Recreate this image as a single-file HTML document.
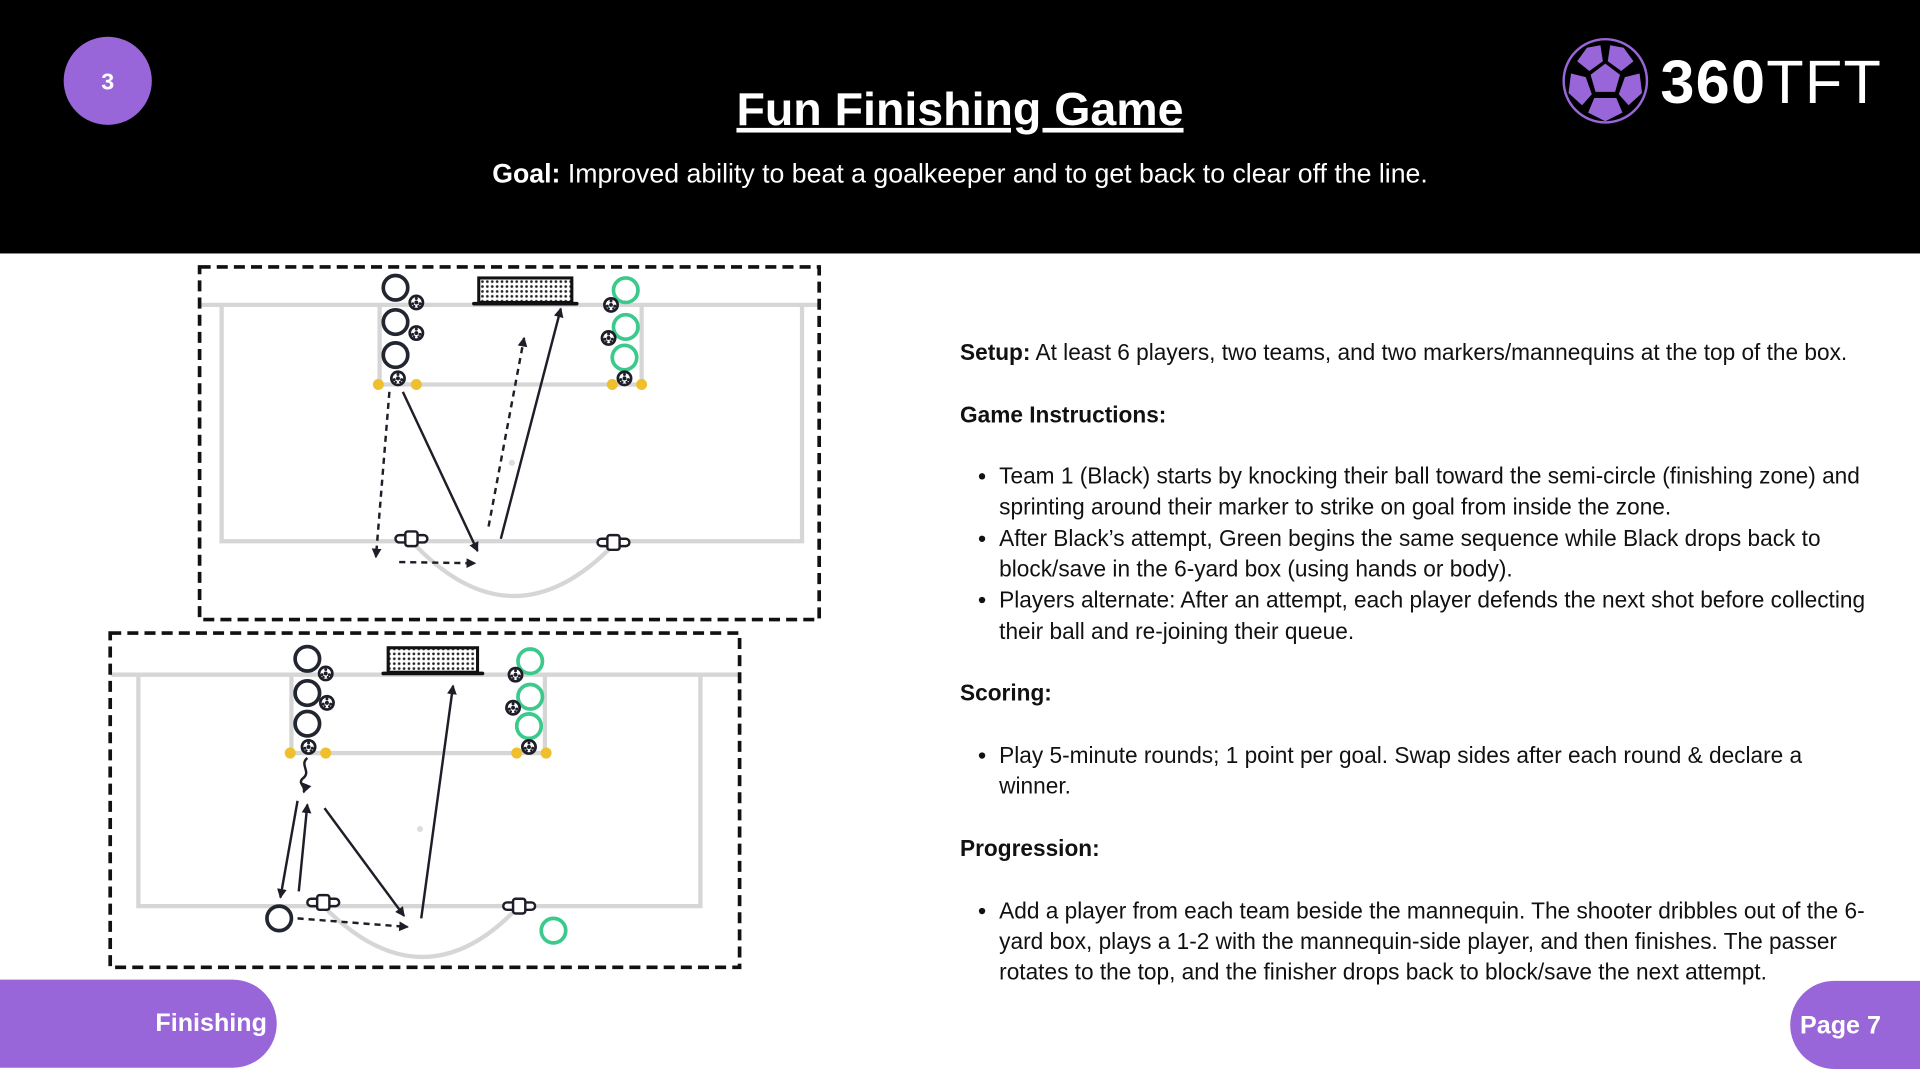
<!DOCTYPE html>
<html><head><meta charset="utf-8"><style>
html,body{margin:0;padding:0;background:#fff;overflow:hidden}
svg{display:block}
text{font-family:"Liberation Sans",Arial,sans-serif}
</style></head><body>
<svg width="1920" height="1080" viewBox="0 0 1568 882" preserveAspectRatio="none" xmlns="http://www.w3.org/2000/svg">
<defs>
<pattern id="net" width="4" height="4" patternUnits="userSpaceOnUse"><rect width="4" height="4" fill="#fff"/><circle cx="2" cy="2" r="1.1" fill="#222"/></pattern>
<marker id="ah" markerWidth="8" markerHeight="8" refX="7" refY="4" orient="auto" markerUnits="userSpaceOnUse" viewBox="0 0 8 8"><path d="M0,0 L8,4 L0,8 Z" fill="#1e1e28"/></marker>
<g id="ball"><circle r="6.5" fill="#1e1e28"/><circle r="4.3" fill="#fff"/><circle r="1.6" fill="#1e1e28"/><circle cx="0" cy="-3.2" r="1.2" fill="#1e1e28"/><circle cx="3" cy="1" r="1.2" fill="#1e1e28"/><circle cx="-3" cy="1" r="1.2" fill="#1e1e28"/><circle cx="1.8" cy="3" r="1" fill="#1e1e28"/><circle cx="-1.8" cy="3" r="1" fill="#1e1e28"/></g>
<g id="man"><rect x="-13" y="-3" width="26" height="6" rx="3" fill="#fff" stroke="#1e1e28" stroke-width="2"/><rect x="-5" y="-6" width="10" height="12" rx="2" fill="#fff" stroke="#1e1e28" stroke-width="2"/></g>
</defs>
<rect x="0" y="0" width="1568" height="207" fill="#000"/>
<circle cx="88" cy="66" r="36" fill="#9966d9"/>
<text x="88" y="73" font-size="19" font-weight="bold" fill="#fff" text-anchor="middle">3</text>
<text x="784" y="102" font-size="38" font-weight="bold" fill="#fff" text-anchor="middle" text-decoration="underline">Fun Finishing Game</text>
<text x="784" y="149" font-size="21.8" fill="#fff" text-anchor="middle"><tspan font-weight="bold">Goal:</tspan> Improved ability to beat a goalkeeper and to get back to clear off the line.</text>
<!-- logo -->
<circle cx="1311" cy="66" r="34" fill="none" stroke="#9966d9" stroke-width="2"/>
<g fill="#9966d9">
<polygon points="1311,52 1323,61 1319,75 1303,75 1299,61"/>
<polygon points="1296,39 1307,37 1309,50 1298,58 1288,50"/>
<polygon points="1326,39 1315,37 1313,50 1324,58 1334,50"/>
<polygon points="1283,60 1295,63 1300,77 1292,86 1281,76"/>
<polygon points="1339,60 1327,63 1322,77 1330,86 1341,76"/>
<polygon points="1302,80 1320,80 1325,92 1311,99 1297,92"/>
</g>
<text x="1356" y="84" font-size="50" fill="#fff" font-weight="bold" letter-spacing="1">360<tspan font-weight="normal">TFT</tspan></text>

<!-- diagram 1 -->
<g stroke-linecap="round">
<g fill="none" stroke="#d6d6d6" stroke-width="3.5">
<line x1="165" y1="249" x2="667" y2="249"/>
<polyline points="181,249 181,442 655,442 655,249"/>
<polyline points="310,249 310,314 524,314 524,249"/>
<path d="M336 442 Q418 530 501 445"/>
</g>
<rect x="163" y="218" width="506" height="288" fill="none" stroke="#111" stroke-width="3" stroke-dasharray="9,5" stroke-linecap="butt"/>
<rect x="391" y="227" width="76" height="20" fill="url(#net)" stroke="#111" stroke-width="2.5"/>
<line x1="387" y1="248" x2="471" y2="248" stroke="#111" stroke-width="3"/>
<g fill="none" stroke="#222630" stroke-width="3"><circle cx="323" cy="235" r="10"/><circle cx="323" cy="263" r="10"/><circle cx="323" cy="290" r="10"/></g>
<g fill="none" stroke="#3cc98c" stroke-width="3"><circle cx="511" cy="237" r="10"/><circle cx="511" cy="267" r="10"/><circle cx="510" cy="292" r="10"/></g>
<g fill="#f0bf2c"><circle cx="309" cy="314" r="4.5"/><circle cx="340" cy="314" r="4.5"/><circle cx="500" cy="314" r="4.5"/><circle cx="524" cy="314" r="4.5"/></g>
<use href="#ball" x="340" y="247"/><use href="#ball" x="340" y="272"/><use href="#ball" x="325" y="309"/>
<use href="#ball" x="499" y="249"/><use href="#ball" x="497" y="276"/><use href="#ball" x="510" y="309"/>
<use href="#man" x="336" y="440"/><use href="#man" x="501" y="443"/>
<circle cx="418" cy="378" r="2.5" fill="#ddd"/>
<g stroke="#1e1e28" stroke-width="2" fill="none" stroke-linecap="butt">
<line x1="318" y1="320" x2="307" y2="455" stroke-dasharray="5,4" marker-end="url(#ah)"/>
<line x1="329" y1="320" x2="390" y2="450" marker-end="url(#ah)"/>
<line x1="326" y1="459" x2="388" y2="460" stroke-dasharray="5,4" marker-end="url(#ah)"/>
<line x1="399" y1="430" x2="428" y2="276" stroke-dasharray="5,4" marker-end="url(#ah)"/>
<line x1="409" y1="440" x2="458" y2="252" marker-end="url(#ah)"/>
</g>
</g>

<!-- diagram 2 -->
<g stroke-linecap="round">
<g fill="none" stroke="#d6d6d6" stroke-width="3.5">
<line x1="92" y1="551" x2="602" y2="551"/>
<polyline points="113,551 113,740 572,740 572,551"/>
<polyline points="238,551 238,615 445,615 445,551"/>
<path d="M264 740 Q345 822 422 742"/>
</g>
<rect x="90" y="517" width="514" height="273" fill="none" stroke="#111" stroke-width="3" stroke-dasharray="9,5" stroke-linecap="butt"/>
<rect x="317" y="529" width="73" height="20" fill="url(#net)" stroke="#111" stroke-width="2.5"/>
<line x1="313" y1="550" x2="394" y2="550" stroke="#111" stroke-width="3"/>
<g fill="none" stroke="#222630" stroke-width="3"><circle cx="251" cy="538" r="10"/><circle cx="251" cy="566" r="10"/><circle cx="251" cy="591" r="10"/><circle cx="228" cy="750" r="10"/></g>
<g fill="none" stroke="#3cc98c" stroke-width="3"><circle cx="433" cy="540" r="10"/><circle cx="433" cy="569" r="10"/><circle cx="432" cy="593" r="10"/><circle cx="452" cy="760" r="10"/></g>
<g fill="#f0bf2c"><circle cx="237" cy="615" r="4.5"/><circle cx="266" cy="615" r="4.5"/><circle cx="422" cy="615" r="4.5"/><circle cx="446" cy="615" r="4.5"/></g>
<use href="#ball" x="266" y="550"/><use href="#ball" x="267" y="574"/><use href="#ball" x="252" y="610"/>
<use href="#ball" x="421" y="551"/><use href="#ball" x="419" y="578"/><use href="#ball" x="432" y="610"/>
<use href="#man" x="264" y="737"/><use href="#man" x="424" y="740"/>
<circle cx="343" cy="677" r="2.5" fill="#ddd"/>
<g stroke="#1e1e28" stroke-width="2" fill="none" stroke-linecap="butt">
<path d="M251 619 C244 625 255 630 247 636 C243 640 250 642 248 647" marker-end="url(#ah)"/>
<line x1="243" y1="654" x2="229" y2="733" marker-end="url(#ah)"/>
<line x1="244" y1="728" x2="251" y2="657" marker-end="url(#ah)"/>
<line x1="265" y1="660" x2="330" y2="748" marker-end="url(#ah)"/>
<line x1="243" y1="750" x2="333" y2="757" stroke-dasharray="5,4" marker-end="url(#ah)"/>
<line x1="344" y1="750" x2="370" y2="560" marker-end="url(#ah)"/>
</g>
</g>

<!-- right text -->
<g font-size="18.5" fill="#111">
<text x="784" y="294"><tspan font-weight="bold">Setup:</tspan> At least 6 players, two teams, and two markers/mannequins at the top of the box.</text>
<text x="784" y="345" font-weight="bold">Game Instructions:</text>
<text x="816" y="395">Team 1 (Black) starts by knocking their ball toward the semi-circle (finishing zone) and</text>
<text x="816" y="420">sprinting around their marker to strike on goal from inside the zone.</text>
<text x="816" y="446">After Black’s attempt, Green begins the same sequence while Black drops back to</text>
<text x="816" y="471">block/save in the 6-yard box (using hands or body).</text>
<text x="816" y="496">Players alternate: After an attempt, each player defends the next shot before collecting</text>
<text x="816" y="522">their ball and re-joining their queue.</text>
<text x="784" y="572" font-weight="bold">Scoring:</text>
<text x="816" y="623">Play 5-minute rounds; 1 point per goal. Swap sides after each round &amp; declare a</text>
<text x="816" y="648">winner.</text>
<text x="784" y="699" font-weight="bold">Progression:</text>
<text x="816" y="750">Add a player from each team beside the mannequin. The shooter dribbles out of the 6-</text>
<text x="816" y="775">yard box, plays a 1-2 with the mannequin-side player, and then finishes. The passer</text>
<text x="816" y="800">rotates to the top, and the finisher drops back to block/save the next attempt.</text>
</g>
<g fill="#111"><circle cx="802" cy="389" r="2.6"/><circle cx="802" cy="440" r="2.6"/><circle cx="802" cy="490" r="2.6"/><circle cx="802" cy="617" r="2.6"/><circle cx="802" cy="744" r="2.6"/></g>

<!-- tabs -->
<path d="M0 800 H190 A36 36 0 0 1 226 836 A36 36 0 0 1 190 872 H0 Z" fill="#9966d9"/>
<text x="218" y="842" font-size="20.5" font-weight="bold" fill="#fff" text-anchor="end">Finishing</text>
<path d="M1498 801 H1568 V873 H1498 A36 36 0 0 1 1498 801 Z" fill="#9966d9"/>
<text x="1470" y="844" font-size="20.5" font-weight="bold" fill="#fff">Page 7</text>
</svg>
</body></html>
